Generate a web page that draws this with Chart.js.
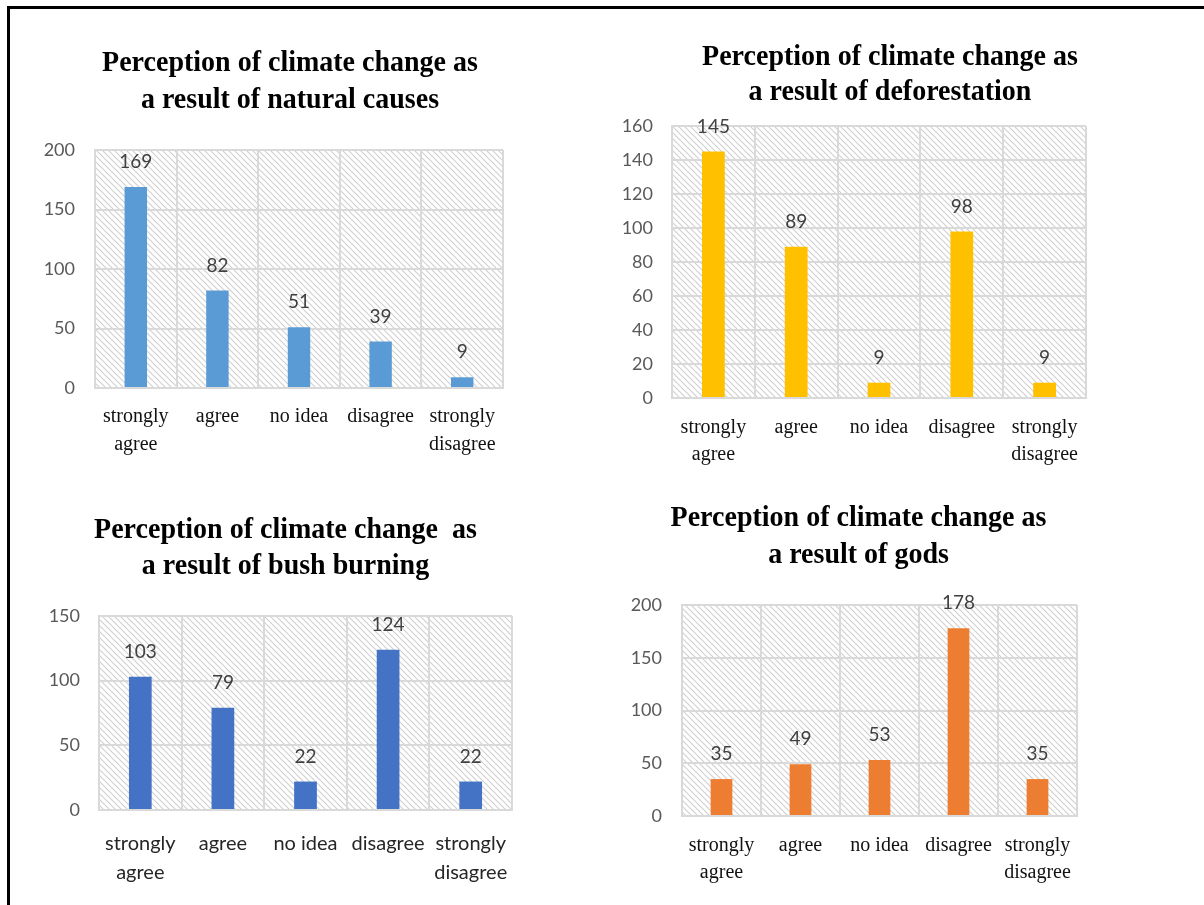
<!DOCTYPE html>
<html>
<head>
<meta charset="utf-8">
<title>Perception of climate change</title>
<script src="https://cdn.jsdelivr.net/npm/chart.js@4.4.1/dist/chart.umd.min.js"></script>
<style>
  html, body { margin: 0; padding: 0; background: #ffffff; }
  #page { position: relative; width: 1204px; height: 905px; overflow: hidden; background: #ffffff; }
  #frame { position: absolute; left: 7px; top: 6px; width: 1220px; height: 920px;
           border-left: 3px solid #000; border-top: 3px solid #000; box-sizing: border-box; }
  canvas { position: absolute; }
</style>
</head>
<body>
<div id="page">
  <div id="frame"></div>
  <canvas id="natural"></canvas>
  <canvas id="deforest"></canvas>
  <canvas id="bush"></canvas>
  <canvas id="gods"></canvas>
</div>
<script>
// ---- data ----
const categories = [['strongly', 'agree'], 'agree', 'no idea', 'disagree', ['strongly', 'disagree']];

const naturalCauses = [169, 82, 51, 39, 9];
const deforestation = [145, 89, 9, 98, 9];
const bushBurning = [103, 79, 22, 124, 22];
const godsValues = [35, 49, 53, 178, 35];

const naturalTitle = ['Perception of climate change as', 'a result of natural causes'];
const deforestTitle = ['Perception of climate change as', 'a result of deforestation'];
const bushTitle = ['Perception of climate change  as', 'a result of bush burning'];
const godsTitle = ['Perception of climate change as', 'a result of gods'];

const naturalTicks = [0, 50, 100, 150, 200];
const deforestTicks = [0, 20, 40, 60, 80, 100, 120, 140, 160];
const bushTicks = [0, 50, 100, 150];
const godsTicks = [0, 50, 100, 150, 200];

// ---- shared drawing helpers ----
const SERIF = '"Liberation Serif", "Times New Roman", serif';
const SANS = 'Lato, "Open Sans", sans-serif';
const GRID = '#d9d9d9';

function hatchPattern(ctx) {
  const tile = document.createElement('canvas');
  tile.width = 6; tile.height = 6;
  const t = tile.getContext('2d');
  t.fillStyle = '#ffffff';
  t.fillRect(0, 0, 6, 6);
  t.strokeStyle = '#cfcfcf';
  t.lineWidth = 1.1;
  t.beginPath();
  t.moveTo(-1, -1); t.lineTo(7, 7);
  t.moveTo(-4, 2); t.lineTo(4, 10);
  t.moveTo(2, -4); t.lineTo(10, 4);
  t.stroke();
  return ctx.createPattern(tile, 'repeat');
}

// Diagonal hatch behind the plot area
const hatchBackground = {
  id: 'hatchBackground',
  beforeDraw(chart) {
    const { ctx, chartArea: a } = chart;
    ctx.save();
    ctx.fillStyle = hatchPattern(ctx);
    ctx.fillRect(a.left, a.top, a.right - a.left, a.bottom - a.top);
    ctx.restore();
  }
};

// Value printed above each bar
const valueLabels = {
  id: 'valueLabels',
  afterDatasetsDraw(chart, args, opts) {
    const { ctx } = chart;
    const meta = chart.getDatasetMeta(0);
    const data = chart.data.datasets[0].data;
    ctx.save();
    ctx.font = opts.font;
    ctx.fillStyle = opts.color;
    ctx.textAlign = 'center';
    ctx.textBaseline = 'middle';
    meta.data.forEach((bar, i) => {
      ctx.fillText(String(data[i]), bar.x, bar.y - opts.gap);
    });
    ctx.restore();
  }
};

// Two-line bold heading placed relative to the plot area
const heading = {
  id: 'heading',
  afterDraw(chart, args, opts) {
    const { ctx, chartArea: a } = chart;
    const cx = (a.left + a.right) / 2 + opts.dx;
    ctx.save();
    ctx.font = opts.font;
    ctx.fillStyle = '#000000';
    ctx.textAlign = 'center';
    ctx.textBaseline = 'middle';
    opts.lines.forEach((line, i) => {
      const y = a.top + opts.dy + i * opts.lineGap;
      ctx.save();
      ctx.translate(cx, y);
      ctx.scale(1, 1.08);
      ctx.fillText(line, 0, 0);
      ctx.restore();
    });
    ctx.restore();
  }
};

function makeChart(id, box, values, color, titleLines, ticks, look) {
  const canvas = document.getElementById(id);
  canvas.width = box.w; canvas.height = box.h;
  canvas.style.left = box.x + 'px';
  canvas.style.top = box.y + 'px';
  canvas.style.width = box.w + 'px';
  canvas.style.height = box.h + 'px';

  return new Chart(canvas, {
    type: 'bar',
    data: {
      labels: categories,
      datasets: [{
        data: values,
        backgroundColor: color,
        borderWidth: 0,
        barPercentage: 0.275,
        categoryPercentage: 1.0
      }]
    },
    options: {
      responsive: false,
      animation: false,
      devicePixelRatio: 1,
      layout: { padding: box.pad },
      plugins: {
        legend: { display: false },
        title: { display: false },
        tooltip: { enabled: false },
        valueLabels: { font: '19px ' + SANS, color: '#404040', gap: 25 },
        heading: { lines: titleLines, font: 'bold 28px ' + SERIF, dx: look.titleDx, dy: look.titleDy, lineGap: look.titleGap }
      },
      scales: {
        x: {
          grid: { color: GRID, lineWidth: 2, drawTicks: false, offset: true },
          border: { color: GRID, width: 2 },
          ticks: {
            color: look.xColor,
            padding: look.xPad,
            maxRotation: 0,
            autoSkip: false,
            font: { family: look.xFamily, size: 20, lineHeight: look.xLine }
          },
          afterFit(scale) { scale.height = box.xh; }
        },
        y: {
          min: ticks[0],
          max: ticks[ticks.length - 1],
          afterBuildTicks(scale) { scale.ticks = ticks.map(v => ({ value: v })); },
          grid: { color: GRID, lineWidth: 2, drawTicks: false },
          border: { color: GRID, width: 2 },
          ticks: {
            color: '#595959',
            padding: look.yPad,
            font: { family: SANS, size: 18 }
          },
          afterFit(scale) { scale.width = box.yw; }
        }
      }
    },
    plugins: [hatchBackground, valueLabels, heading]
  });
}

makeChart('natural',
  { x: 12, y: 12, w: 560, h: 450, yw: 60, xh: 70, pad: { left: 23, right: 69, top: 138, bottom: 4 } },
  naturalCauses, '#5B9BD5', naturalTitle, naturalTicks,
  { titleDx: -9, titleDy: -87, titleGap: 37, xFamily: SERIF, xColor: '#111111', xPad: 15, xLine: 1.4, yPad: 20 });

makeChart('deforest',
  { x: 612, y: 12, w: 580, h: 460, yw: 60, xh: 70, pad: { left: 0, right: 106, top: 114, bottom: 4 } },
  deforestation, '#FFC000', deforestTitle, deforestTicks,
  { titleDx: 11, titleDy: -69, titleGap: 35, xFamily: SERIF, xColor: '#111111', xPad: 16, xLine: 1.35, yPad: 19 });

makeChart('bush',
  { x: 12, y: 472, w: 560, h: 430, yw: 60, xh: 80, pad: { left: 27, right: 60, top: 144, bottom: 12 } },
  bushBurning, '#4472C4', bushTitle, bushTicks,
  { titleDx: -20, titleDy: -86, titleGap: 36, xFamily: SANS, xColor: '#262626', xPad: 19, xLine: 1.45, yPad: 19 });

makeChart('gods',
  { x: 612, y: 472, w: 580, h: 430, yw: 60, xh: 80, pad: { left: 10, right: 115, top: 133, bottom: 6 } },
  godsValues, '#ED7D31', godsTitle, godsTicks,
  { titleDx: -21, titleDy: -87, titleGap: 37, xFamily: SERIF, xColor: '#111111', xPad: 16, xLine: 1.35, yPad: 20 });
</script>
</body>
</html>
